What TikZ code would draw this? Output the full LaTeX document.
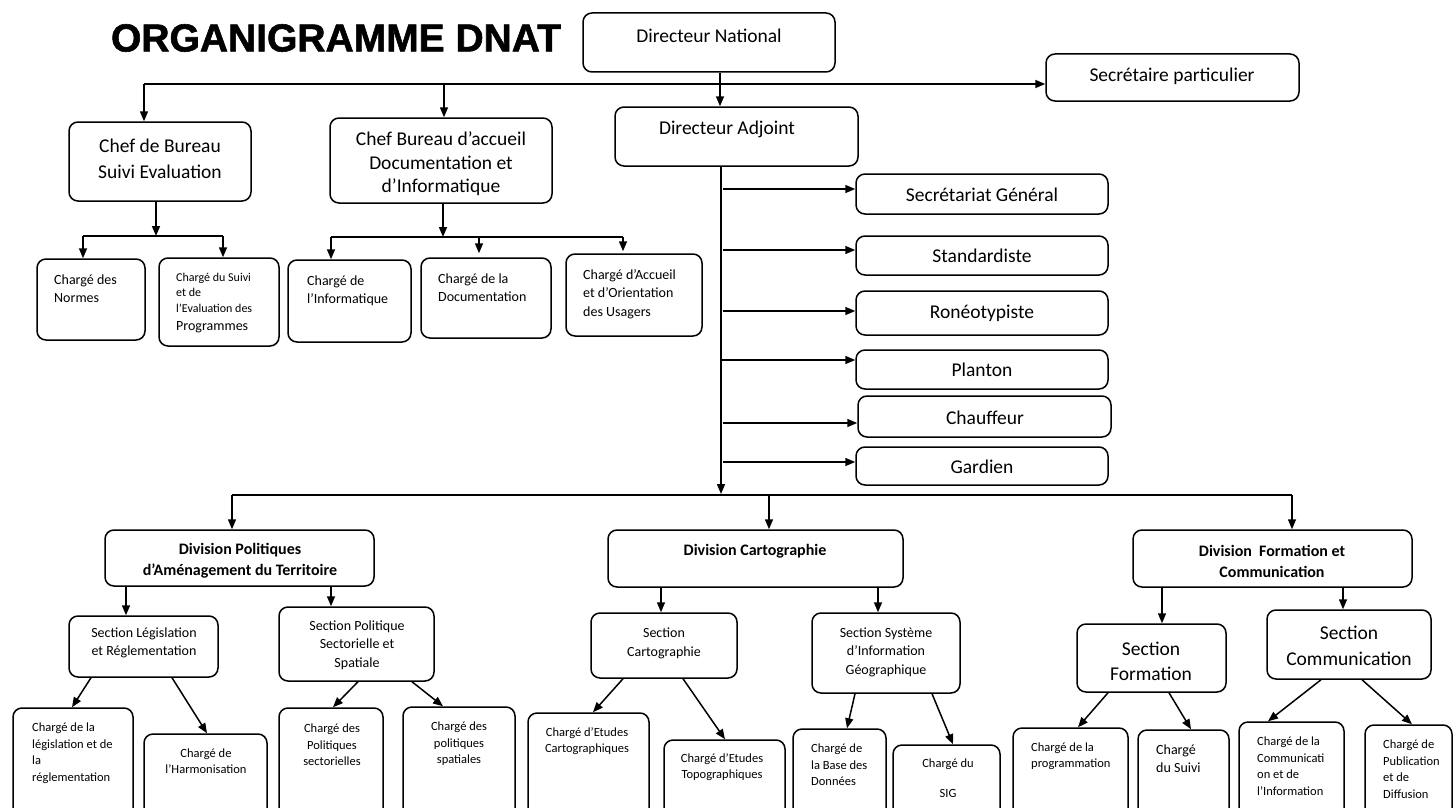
\documentclass[tikz,border=0pt]{standalone}
\usepackage{fontspec}
\setmainfont{Carlito}
\newfontfamily\titlefont{Liberation Sans Bold}[FakeBold=1.5]
\usetikzlibrary{arrows.meta,fit}
\tikzset{
  box/.style={draw, line width=1.5pt, rounded corners=9pt, fill=white, inner sep=0pt},
  ln/.style={line width=1.5pt},
  arr/.style={line width=1.5pt, -{Triangle[length=10pt,width=8pt]}},
  tbig/.style={font=\fontsize{19.5}{25}\selectfont, align=center, inner sep=0pt},
  tmid/.style={font=\fontsize{14}{18}\selectfont, align=center, inner sep=0pt},
  tsmall/.style={font=\fontsize{12.5}{16.5}\selectfont, align=center, inner sep=0pt},
  tdiv/.style={font=\bfseries\fontsize{16}{21}\selectfont, align=center, inner sep=0pt},
  lft/.style={anchor=west, align=left}
}
\begin{document}
\begin{tikzpicture}[x=1pt,y=-1pt]
\useasboundingbox (0,0) rectangle (1456,808);
\clip (0,0) rectangle (1456,808);
\fill[white] (0,0) rectangle (1456,808);

\node[font=\titlefont\fontsize{39}{42}\selectfont, inner sep=0pt] (title) at (336,38) {ORGANIGRAMME DNAT};

% ---------- boxes ----------
\node[box, fit={(583,13) (835,72)}] (DN) {};
\node[box, fit={(1046,54) (1299,101)}] (SP) {};
\node[box, fit={(615,107) (858,166)}] (DA) {};
\node[box, fit={(69,122) (251,201)}] (CB1) {};
\node[box, fit={(330,118) (552,203)}] (CB2) {};
\node[box, fit={(37,259) (145,340)}] (Normes) {};
\node[box, fit={(159,258) (279,346)}] (Suivi) {};
\node[box, fit={(288,260) (411,342)}] (Info) {};
\node[box, fit={(421,258) (551,338)}] (Doc) {};
\node[box, fit={(566,254) (702,336)}] (Accueil) {};
\node[box, fit={(856,174) (1108,214)}] (SG) {};
\node[box, fit={(856,236) (1108,275)}] (Std) {};
\node[box, fit={(856,291) (1108,335)}] (Ron) {};
\node[box, fit={(856,350) (1108,389)}] (Plan) {};
\node[box, fit={(858,396) (1111,437)}] (Chauf) {};
\node[box, fit={(856,447) (1108,485)}] (Gard) {};
\node[box, fit={(105,530) (374,586)}] (DivP) {};
\node[box, fit={(608,530) (903,587)}] (DivC) {};
\node[box, fit={(1133,530) (1412,587)}] (DivF) {};
\node[box, fit={(69,616) (218,677)}] (SecL) {};
\node[box, fit={(279,607) (434,681)}] (SecP) {};
\node[box, fit={(591,613) (737,678)}] (SecC) {};
\node[box, fit={(812,613) (960,693)}] (SecS) {};
\node[box, fit={(1077,624) (1226,692)}] (SecF) {};
\node[box, fit={(1267,610) (1431,679)}] (SecCom) {};
\node[box, fit={(13,708) (133,830)}] (b1) {};
\node[box, fit={(144,734) (267,830)}] (b2) {};
\node[box, fit={(279,708) (383,830)}] (b3) {};
\node[box, fit={(403,707) (515,830)}] (b4) {};
\node[box, fit={(528,713) (649,830)}] (b5) {};
\node[box, fit={(664,740) (785,830)}] (b6) {};
\node[box, fit={(793,729) (886,830)}] (b7) {};
\node[box, fit={(893,745) (1000,830)}] (b8) {};
\node[box, fit={(1013,728) (1128,830)}] (b9) {};
\node[box, fit={(1138,730) (1229,830)}] (b10) {};
\node[box, fit={(1239,722) (1344,830)}] (b11) {};
\node[box, fit={(1365,725) (1452,830)}] (b12) {};

% ---------- connectors ----------
\draw[arr] (720,0 |- DN.south) -- (720,0 |- DA.north);
\coordinate (barA) at (144,84);
\coordinate (barB) at (444,84);
\draw[arr] (barA) -- (barA -| SP.west);
\draw[arr] (barA) -- (barA |- CB1.north);
\draw[arr] (barB) -- (barB |- CB2.north);

\coordinate (j1) at (156,236);
\coordinate (j1a) at (83,236);
\coordinate (j1b) at (223,236);
\draw[arr] (j1 |- CB1.south) -- (j1);
\draw[ln] (j1a) -- (j1b);
\draw[arr] (j1a) -- (j1a |- Normes.north);
\draw[arr] (j1b) -- (j1b |- Suivi.north);

\coordinate (j2) at (443,237);
\coordinate (j2a) at (331,237);
\coordinate (j2b) at (479,237);
\coordinate (j2c) at (623,237);
\draw[arr] (j2 |- CB2.south) -- (j2);
\draw[ln] (j2a) -- (j2c);
\draw[arr] (j2a) -- (j2a |- Info.north);
\draw[arr, shorten >=4pt] (j2b) -- (j2b |- Doc.north);
\draw[arr, shorten >=2pt] (j2c) -- (j2c |- Accueil.north);

\coordinate (j3) at (721,494);
\draw[arr] (j3 |- DA.south) -- (j3);
\coordinate (s1) at (723,189);
\coordinate (s2) at (723,250);
\coordinate (s3) at (723,311);
\coordinate (s4) at (721,360);
\coordinate (s5) at (723,423);
\coordinate (s6) at (723,462);
\draw[arr] (s1) -- (s1 -| SG.west);
\draw[arr] (s2) -- (s2 -| Std.west);
\draw[arr] (s3) -- (s3 -| Ron.west);
\draw[arr] (s4) -- (s4 -| Plan.west);
\draw[arr] (s5) -- (s5 -| Chauf.west);
\draw[arr] (s6) -- (s6 -| Gard.west);

\coordinate (j4a) at (232,495);
\coordinate (j4b) at (769,495);
\coordinate (j4c) at (1292,495);
\draw[ln] (j4a) -- (j4c);
\draw[arr] (j4a) -- (j4a |- DivP.north);
\draw[arr] (j4b) -- (j4b |- DivC.north);
\draw[arr] (j4c) -- (j4c |- DivF.north);

\draw[arr] (126,0 |- DivP.south) -- (126,0 |- SecL.north);
\draw[arr] (331,0 |- DivP.south) -- (331,0 |- SecP.north);
\draw[arr] (661,0 |- DivC.south) -- (661,0 |- SecC.north);
\draw[arr] (878,0 |- DivC.south) -- (878,0 |- SecS.north);
\draw[arr] (1162,0 |- DivF.south) -- (1162,0 |- SecF.north);
\draw[arr] (1343,0 |- DivF.south) -- (1343,0 |- SecCom.north);

\draw[arr] (91,0 |- SecL.south) -- (72,0 |- b1.north);
\draw[arr] (172,0 |- SecL.south) -- (207,0 |- b2.north);
\draw[arr] (358,0 |- SecP.south) -- (333,0 |- b3.north);
\draw[arr] (412,0 |- SecP.south) -- (443,0 |- b4.north);
\draw[arr] (623,0 |- SecC.south) -- (593,0 |- b5.north);
\draw[arr] (683,0 |- SecC.south) -- (725,0 |- b6.north);
\draw[arr] (855,0 |- SecS.south) -- (847,0 |- b7.north);
\draw[arr] (932,0 |- SecS.south) -- (953,0 |- b8.north);
\draw[arr] (1108,0 |- SecF.south) -- (1078,0 |- b9.north);
\draw[arr] (1169,0 |- SecF.south) -- (1191,0 |- b10.north);
\draw[arr] (1321,0 |- SecCom.south) -- (1268,0 |- b11.north);
\draw[arr] (1362,0 |- SecCom.south) -- (1412,0 |- b12.north);

% ---------- texts ----------
\node[tbig] (DN-t) at (709,36) {Directeur National};
\node[tbig] (SP-t) at (1172,76) {Secrétaire particulier};
\node[tbig] (DA-t) at (727,129) {Directeur Adjoint};
\node[tbig, font=\fontsize{19.5}{26}\selectfont] (CB1-t) at (160,159) {Chef de Bureau\\Suivi Evaluation};
\node[tbig, font=\fontsize{19.5}{23.5}\selectfont] (CB2-t) at (441,164) {Chef Bureau d’accueil\\Documentation et\\d’Informatique};

\node[tmid, lft] (Normes-t) at (54,289) {Chargé des\\Normes};
\node[tsmall, lft, font=\fontsize{12}{15.5}\selectfont] (Suivi-t) at (176,303) {Chargé du Suivi\\et de\\l’Evaluation des\\[3pt]{\fontsize{14}{18}\selectfont Programmes}};
\node[tmid, lft] (Info-t) at (307,291) {Chargé de\\l’Informatique};
\node[tmid, lft] (Doc-t) at (438,288) {Chargé de la\\Documentation};
\node[tmid, lft, font=\fontsize{14}{18.5}\selectfont] (Accueil-t) at (583,294) {Chargé d’Accueil\\et d’Orientation\\des Usagers};

\node[tbig] (SG-t) at (982,195) {Secrétariat Général};
\node[tbig] (Std-t) at (982,256) {Standardiste};
\node[tbig] (Ron-t) at (982,313) {Ronéotypiste};
\node[tbig] (Plan-t) at (982,370) {Planton};
\node[tbig] (Chauf-t) at (985,418) {Chauffeur};
\node[tbig] (Gard-t) at (982,467) {Gardien};

\node[tdiv] (DivP-t) at (240,561) {Division Politiques\\d’Aménagement du Territoire};
\node[tdiv] (DivC-t) at (755,551) {Division Cartographie};
\node[tdiv] (DivF-t) at (1272,561) {Division\ \ Formation et\\Communication};

\node[tmid] (SecL-t) at (144,643) {Section Législation\\et Réglementation};
\node[tmid, font=\fontsize{14}{18.5}\selectfont] (SecP-t) at (357,645) {Section Politique\\Sectorielle et\\Spatiale};
\node[tmid, font=\fontsize{14}{19}\selectfont] (SecC-t) at (664,643) {Section\\Cartographie};
\node[tmid, font=\fontsize{14}{18.5}\selectfont] (SecS-t) at (886,652) {Section Système\\d’Information\\Géographique};
\node[tbig] (SecF-t) at (1151,661) {Section\\Formation};
\node[tbig, font=\fontsize{19.5}{26}\selectfont] (SecCom-t) at (1349,646) {Section\\Communication};

\node[tsmall, lft] (b1-t) at (32,753) {Chargé de la\\législation et de\\la\\réglementation};
\node[tsmall] (b2-t) at (206,761) {Chargé de\\l’Harmonisation};
\node[tsmall] (b3-t) at (332,745) {Chargé des\\Politiques\\sectorielles};
\node[tsmall] (b4-t) at (459,744) {Chargé des\\politiques\\spatiales};
\node[tsmall] (b5-t) at (587,741) {Chargé d’Etudes\\Cartographiques};
\node[tsmall] (b6-t) at (722,767) {Chargé d’Etudes\\Topographiques};
\node[tsmall, lft] (b7-t) at (811,765) {Chargé de\\la Base des\\Données};
\node[tsmall] (b8-t) at (948,778) {Chargé du\\[13pt]SIG};
\node[tsmall, lft] (b9-t) at (1031,756) {Chargé de la\\programmation};
\node[tmid, lft] (b10-t) at (1156,759) {Chargé\\du Suivi};
\node[tsmall, lft] (b11-t) at (1257,766) {Chargé de la\\Communicati\\on et de\\l’Information};
\node[tsmall, lft] (b12-t) at (1383,769) {Chargé de\\Publication\\et de\\Diffusion};
\end{tikzpicture}
\end{document}
